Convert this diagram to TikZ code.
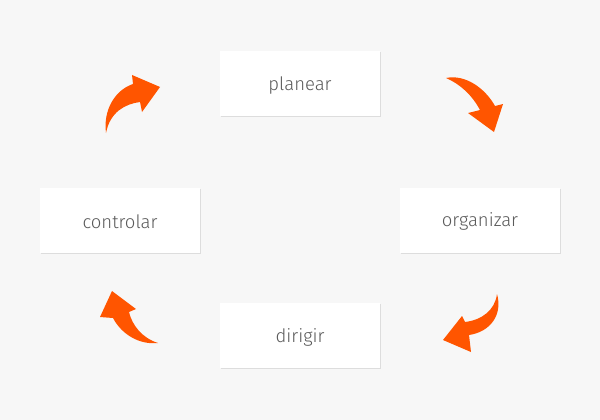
\documentclass[tikz,border=0pt]{standalone}
\usepackage{fontspec}
\setmainfont{Fira Sans Light}
\definecolor{bg}{HTML}{F7F7F7}
\definecolor{arr}{HTML}{FF5500}
\definecolor{txt}{HTML}{5A5A5A}
\definecolor{shd}{HTML}{DDDDDD}
\begin{document}
\begin{tikzpicture}[x=1pt,y=-1pt,
  stepbox/.style={rectangle,fill=white,minimum width=160pt,minimum height=65pt,
    inner sep=0pt,text=txt,font=\fontsize{18.5}{20}\selectfont},
  arrowshape/.style={fill=arr,draw=none}]
\fill[bg] (0,0) rectangle (600,420);
\useasboundingbox (0,0) rectangle (600,420);
% shadows
\foreach \cx/\cy in {300/83.5, 480/220, 120/220, 300/335.5}{
  \fill[shd] (\cx-79,\cy-31.5) rectangle (\cx+81,\cy+33.5);
}
\node[stepbox] (planear) at (300,83.5) {};
\node[stepbox] (organizar) at (480,220) {};
\node[stepbox] (controlar) at (120,220) {};
\node[stepbox] (dirigir) at (300,335.5) {};
\foreach \n in {planear,organizar,controlar,dirigir}{
  \node[text=txt,font=\fontsize{18.5}{20}\selectfont,inner sep=0pt] (\n-label) at ([yshift=-1.8pt]\n.center) {\n};
}
% arrows
\fill[arrowshape] (106,133) .. controls (103,110) and (115,90) .. (133,84) -- (132,75) -- (160,87) -- (142,112) -- (140,102) .. controls (125,104) and (110,112) .. (106,133) -- cycle;
\fill[arrowshape] (446,78) .. controls (465,74) and (485,88) .. (495,106) -- (503,104) -- (494,132) -- (468,113) -- (480,110) .. controls (472,95) and (460,84) .. (446,78) -- cycle;
\fill[arrowshape] (497,294) .. controls (503,315) and (490,332) .. (469,335) -- (471,352) -- (443,340) -- (462,316) -- (465,322) .. controls (482,320) and (495,310) .. (497,294) -- cycle;
\fill[arrowshape] (158,343) .. controls (140,345) and (122,335) .. (113,318) -- (100,317) -- (112,291) -- (136,309) -- (129,312) .. controls (132,325) and (142,338) .. (158,343) -- cycle;
\end{tikzpicture}
\end{document}
